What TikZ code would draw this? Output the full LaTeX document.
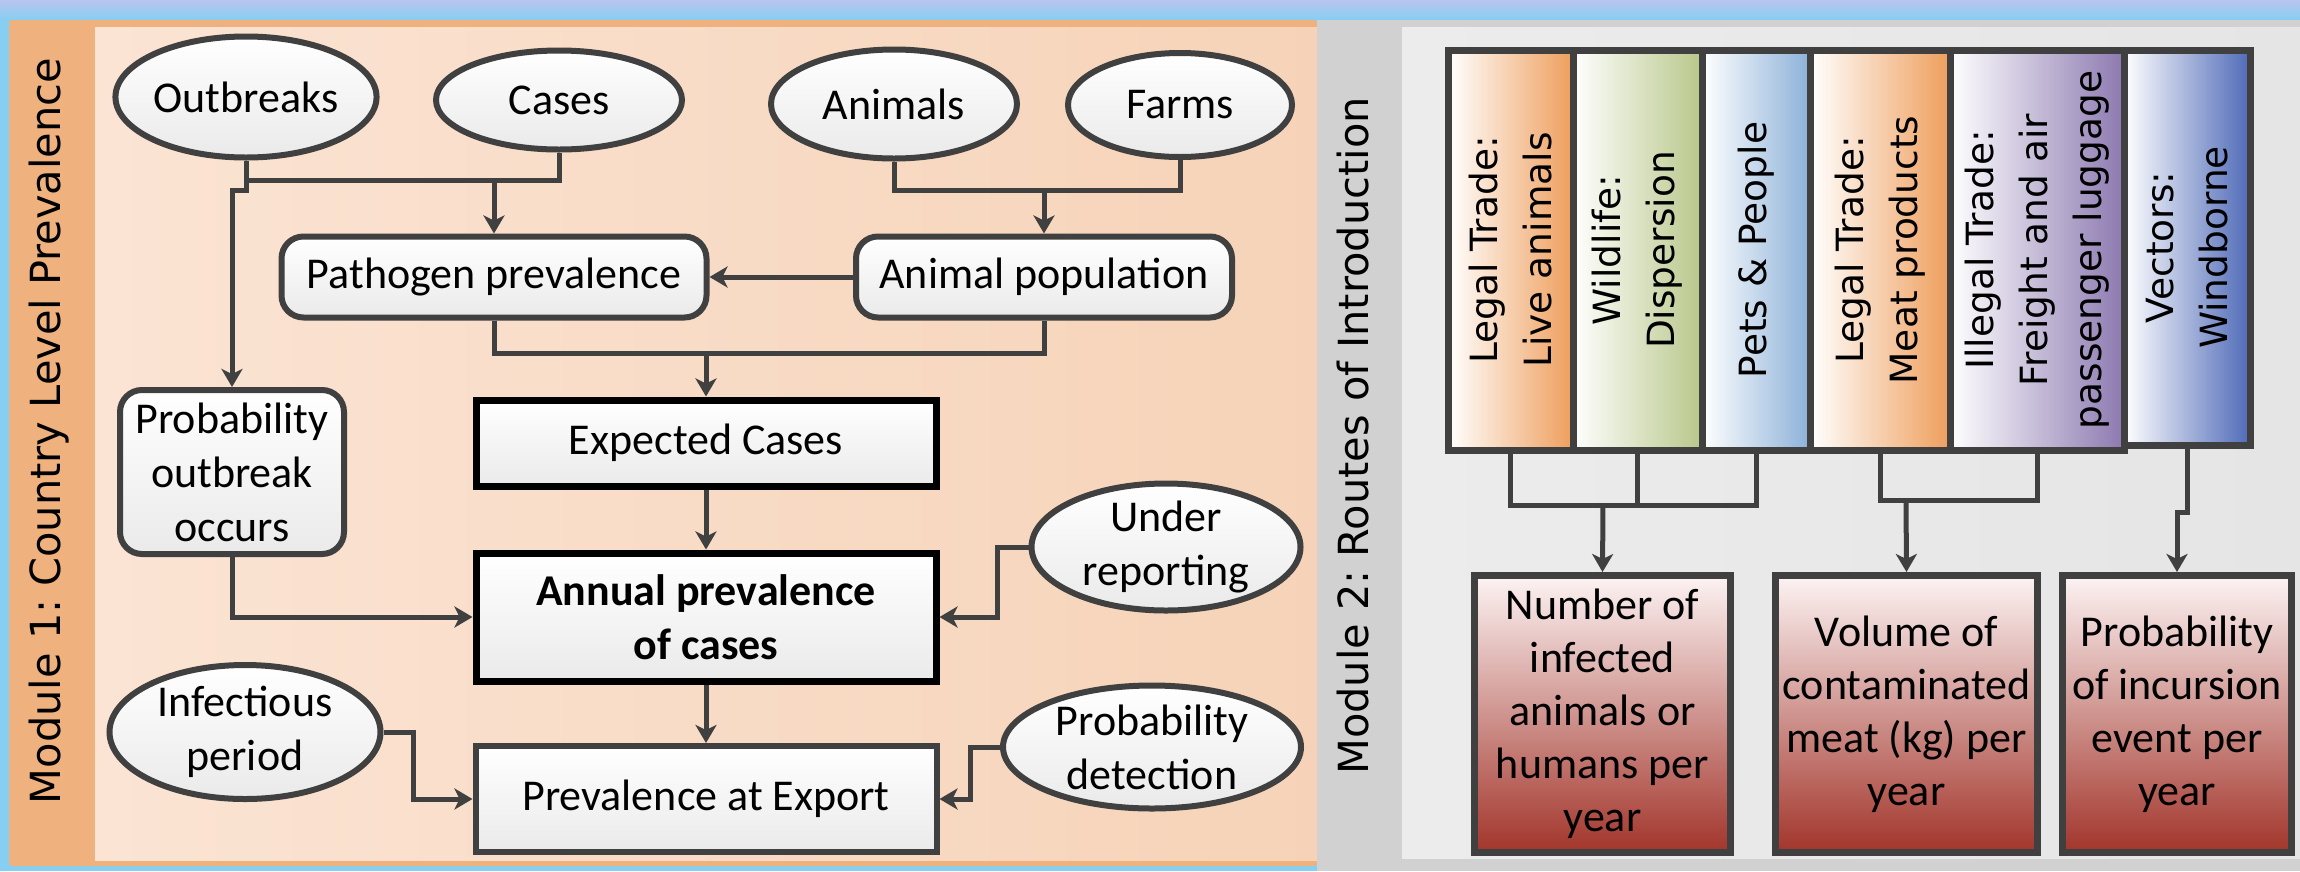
\documentclass[tikz,border=0pt]{standalone}
\usepackage{fontspec}
\setmainfont{Carlito}
\newfontfamily\dejavu{DejaVu Sans}
\usetikzlibrary{shapes.geometric,arrows.meta}
\definecolor{linec}{HTML}{404040}
\definecolor{bgblue}{HTML}{86CFF2}
\definecolor{topstrip}{HTML}{B9C4EE}
\definecolor{orband}{HTML}{EFB27F}
\definecolor{orinL}{HTML}{FBE4D4}
\definecolor{orinR}{HTML}{F6D3B8}
\definecolor{grband}{HTML}{D1D1D1}
\definecolor{grinL}{HTML}{ECECEC}
\definecolor{grinR}{HTML}{E5E5E5}
\definecolor{nodeg}{HTML}{EAEAEA}
\definecolor{corange}{HTML}{EE9E5C}
\definecolor{cgreen}{HTML}{B8C78A}
\definecolor{cblue}{HTML}{8CB1D8}
\definecolor{cpurple}{HTML}{8C79B0}
\definecolor{cdblue}{HTML}{4F6AB7}
\definecolor{redtop}{HTML}{FCF3F3}
\definecolor{redbot}{HTML}{A2352B}
\frenchspacing
\begin{document}
\begin{tikzpicture}[x=1pt,y=-1pt,
  ell/.style={ellipse, draw=linec, line width=6pt, top color=white, bottom color=nodeg,
    inner xsep=0pt, inner ysep=-20pt, align=center, font=\fontsize{44}{54}\selectfont},
  rbox/.style={rectangle, rounded corners=22pt, draw=linec, line width=6pt, top color=white,
    bottom color=nodeg, inner sep=0pt, align=center, font=\fontsize{44}{54}\selectfont},
  sbox/.style={rectangle, draw=black, line width=7pt, top color=white, bottom color=nodeg,
    inner sep=0pt, align=center, font=\fontsize{44}{54}\selectfont},
  xbox/.style={rectangle, draw=linec, line width=6pt, top color=white, bottom color=nodeg,
    inner sep=0pt, align=center, font=\fontsize{44}{54}\selectfont},
  colbox/.style={rectangle, draw=linec, line width=7pt, left color=white, inner sep=0pt},
  ctext/.style={rotate=90, align=center, inner sep=0pt, font=\dejavu\fontsize{37.5}{54}\selectfont},
  title/.style={rotate=90, anchor=base, inner sep=0pt, font=\dejavu\fontsize{41.5}{48}\selectfont},
  redbox/.style={rectangle, draw=linec, line width=7pt, top color=redtop, bottom color=redbot,
    inner sep=0pt, align=center, font=\fontsize{44}{53}\selectfont},
  conn/.style={draw=linec, line width=5pt},
  arr/.style={conn, -{Stealth[length=18pt,width=21pt,inset=5pt]}}
]
\useasboundingbox (0,0) rectangle (2300,871);
% background
\fill[bgblue] (0,0) rectangle (2300,871);
\shade[top color=topstrip, bottom color=bgblue] (0,0) rectangle (2300,20);
% left panel
\fill[orband, rounded corners=3pt] (9,20) rectangle (1317,866);
\shade[left color=orinL, right color=orinR] (95,27) rectangle (1317,860);
% right panel
\fill[grband] (1317,20) rectangle (2300,871);
\shade[left color=grinL, right color=grinR] (1402,27) rectangle (2300,858);

% titles
\node[title] (m1) at (60,431) {Module 1: Country Level Prevalence};
\node[title] (m2) at (1368,436) {Module 2: Routes of Introduction};

% module 1 nodes
\node[ell, minimum width=249pt, minimum height=121pt] (outbreaks) at (246,97) {Outbreaks};
\node[ell, minimum width=246pt, minimum height=99pt] (cases) at (559,100) {Cases};
\node[ell, minimum width=246pt, minimum height=109pt] (animals) at (894,104) {Animals};
\node[ell, minimum width=224pt, minimum height=104pt] (farms) at (1180,105) {Farms};
\node[rbox, minimum width=425pt, minimum height=81pt] (pathogen) at (494,277) {Pathogen prevalence};
\node[rbox, minimum width=376pt, minimum height=81pt] (animalpop) at (1044,277) {Animal population};
\node[rbox, minimum width=224pt, minimum height=164pt] (probout) at (232,472) {Probability\\outbreak\\occurs};
\node[sbox, minimum width=460pt, minimum height=86pt] (expected) at (706,443) {Expected Cases};
\node[sbox, minimum width=460pt, minimum height=128pt, font=\fontsize{44}{54}\selectfont\bfseries] (annual) at (706,617) {Annual prevalence\\of cases};
\node[xbox, minimum width=461pt, minimum height=106pt] (export) at (706,799) {Prevalence at Export};
\node[ell, minimum width=269pt, minimum height=127pt] (under) at (1166,547) {Under\\reporting};
\node[ell, minimum width=271pt, minimum height=134pt] (infectious) at (245,732) {Infectious\\period};
\node[ell, minimum width=298pt, minimum height=123pt] (probdet) at (1152,747) {Probability\\detection};

% module 1 connectors
\coordinate (j1) at (494,180);
\coordinate (j2) at (232,190);
\coordinate (j3) at (1044,190);
\coordinate (j4) at (706,353);
\draw[conn] (outbreaks.south) |- (j1) -| (cases.south);
\draw[arr] (j1) -- (pathogen.north);
\draw[arr] (outbreaks.south) |- (j2) -- (probout.north);
\draw[conn] (animals.south) |- (j3) -| (farms.south);
\draw[arr] (j3) -- (animalpop.north);
\draw[arr] (animalpop.west) -- (pathogen.east);
\draw[conn] (pathogen.south) |- (j4) -| (animalpop.south);
\draw[arr] (j4) -- (expected.north);
\draw[arr] (expected.south) -- (annual.north);
\draw[arr] (annual.south) -- (export.north);
\draw[arr] (probout.south) |- (annual.west);
\draw[arr] (under.west) -- ++(-31,0) |- (annual.east);
\draw[arr] (infectious.east) -- ++(30,0) |- (export.west);
\draw[arr] (probdet.west) -- ++(-30,0) |- (export.east);

% module 2 columns
\node[colbox, minimum width=125pt, minimum height=400pt, right color=corange] (c1) at (1510.5,250) {};
\node[colbox, minimum width=129pt, minimum height=400pt, right color=cgreen] (c2) at (1637.5,250) {};
\node[colbox, minimum width=108pt, minimum height=400pt, right color=cblue] (c3) at (1756,250) {};
\node[colbox, minimum width=140pt, minimum height=400pt, right color=corange] (c4) at (1880,250) {};
\node[colbox, minimum width=174pt, minimum height=400pt, right color=cpurple] (c5) at (2037,250) {};
\node[colbox, minimum width=126pt, minimum height=395pt, right color=cdblue] (c6) at (2187,247.5) {};
\node[ctext] (t1) at (c1) {Legal Trade:\\Live animals};
\node[ctext] (t2) at (c2) {Wildlife:\\Dispersion};
\node[ctext] (t3) at (c3) {Pets \& People};
\node[ctext] (t4) at (c4) {Legal Trade:\\Meat products};
\node[ctext] (t5) at (c5) {Illegal Trade:\\Freight and air\\passenger luggage};
\node[ctext] (t6) at (c6) {Vectors:\\Windborne};

% module 2 outputs
\node[redbox, minimum width=256pt, minimum height=277pt] (number) at (1602.5,714) {Number of\\infected\\animals or\\humans per\\year};
\node[redbox, minimum width=262pt, minimum height=277pt] (volume) at (1906.5,714) {Volume of\\contaminated\\meat (kg) per\\year};
\node[redbox, minimum width=229pt, minimum height=277pt] (prob) at (2177,714) {Probability\\of incursion\\event per\\year};

% module 2 connectors
\coordinate (r1) at (1603,505);
\coordinate (r2) at (1906,500);
\coordinate (r3) at (2177,512);
\draw[conn] (c1.south) |- (r1) -| (c3.south);
\draw[conn] (c2.south) -- (c2.south |- r1);
\draw[arr] (r1) -- (number.north);
\draw[conn] (c4.south) |- (r2) -| (c5.south);
\draw[arr] (r2) -- (volume.north);
\draw[arr] (c6.south) |- (r3) -- (prob.north);
\end{tikzpicture}
\end{document}
